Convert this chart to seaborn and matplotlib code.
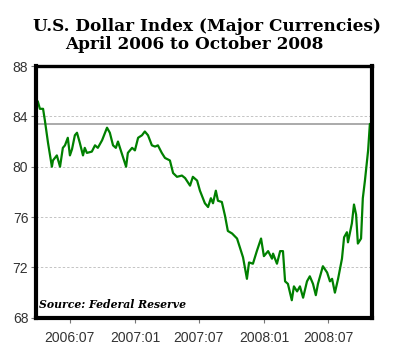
import matplotlib
matplotlib.use("Agg")
import matplotlib.pyplot as plt
import matplotlib.dates as mdates
import pandas as pd
import seaborn as sns

# weekly-ish readings of the index
dates = [
    "2006-04-01", "2006-04-07", "2006-04-16", "2006-04-21", "2006-04-30", "2006-05-11",
    "2006-05-14", "2006-05-25", "2006-06-03", "2006-06-11", "2006-06-17", "2006-06-25",
    "2006-07-01", "2006-07-07", "2006-07-15", "2006-07-21", "2006-07-29", "2006-08-07",
    "2006-08-12", "2006-08-18", "2006-09-01", "2006-09-10", "2006-09-18", "2006-09-30",
    "2006-10-14", "2006-10-22", "2006-10-31", "2006-11-08", "2006-11-14", "2006-11-22",
    "2006-12-07", "2006-12-12", "2006-12-24", "2007-01-01", "2007-01-10", "2007-01-21",
    "2007-01-29", "2007-02-07", "2007-02-18", "2007-02-27", "2007-03-07", "2007-03-18",
    "2007-03-27", "2007-04-10", "2007-04-19", "2007-04-30", "2007-05-14", "2007-05-23",
    "2007-06-06", "2007-06-14", "2007-06-26", "2007-07-04", "2007-07-18", "2007-07-27",
    "2007-08-04", "2007-08-10", "2007-08-18", "2007-08-24", "2007-09-04", "2007-09-13",
    "2007-09-21", "2007-10-03", "2007-10-17", "2007-10-25", "2007-11-03", "2007-11-14",
    "2007-11-20", "2007-12-01", "2007-12-12", "2007-12-24", "2008-01-01", "2008-01-13",
    "2008-01-24", "2008-01-27", "2008-02-07", "2008-02-16", "2008-02-24", "2008-03-01",
    "2008-03-09", "2008-03-20", "2008-03-26", "2008-04-04", "2008-04-12", "2008-04-21",
    "2008-05-02", "2008-05-10", "2008-05-19", "2008-05-27", "2008-06-02", "2008-06-16",
    "2008-06-28", "2008-07-06", "2008-07-12", "2008-07-20", "2008-07-29", "2008-08-09",
    "2008-08-15", "2008-08-23", "2008-08-26", "2008-09-06", "2008-09-12", "2008-09-18",
    "2008-09-23", "2008-10-02", "2008-10-07", "2008-10-13", "2008-10-22", "2008-10-27",
]
index_values = [
    85.2, 84.6, 84.6, 83.7, 81.9, 80.0,
    80.5, 80.9, 80.0, 81.5, 81.7, 82.3,
    80.9, 81.4, 82.5, 82.7, 81.9, 80.9,
    81.5, 81.1, 81.2, 81.7, 81.5, 82.1,
    83.1, 82.7, 81.7, 81.5, 82.0, 81.3,
    80.0, 81.1, 81.5, 81.3, 82.3, 82.5,
    82.8, 82.5, 81.7, 81.6, 81.7, 81.1,
    80.7, 80.5, 79.5, 79.2, 79.3, 79.1,
    78.5, 79.2, 78.9, 78.1, 77.1, 76.8,
    77.5, 77.1, 78.1, 77.3, 77.2, 76.1,
    74.9, 74.7, 74.3, 73.6, 72.8, 71.1,
    72.4, 72.3, 73.3, 74.3, 72.9, 73.3,
    72.7, 73.1, 72.3, 73.3, 73.3, 70.9,
    70.7, 69.4, 70.5, 70.1, 70.5, 69.6,
    70.9, 71.3, 70.7, 69.8, 70.7, 72.1,
    71.6, 70.9, 71.1, 70.0, 71.1, 72.7,
    74.4, 74.8, 74.0, 75.5, 77.0, 76.2,
    73.9, 74.3, 77.5, 78.9, 81.3, 83.4,
]
y_ticks = [68, 72, 76, 80, 84, 88]

df = pd.DataFrame({"date": pd.to_datetime(dates), "index": index_values})

sns.set_style("white")
plt.rcParams["font.family"] = ["Liberation Sans", "DejaVu Sans"]

fig = plt.figure(figsize=(4, 3.52), dpi=100)
ax = fig.add_axes([0.09, 0.097, 0.84, 0.7155])

ax.set_yticks(y_ticks)
ax.yaxis.grid(True, linestyle=(0, (2.5, 2)), color="#c4c4c4", linewidth=0.7)
ax.set_axisbelow(True)
ax.axhline(index_values[-1], color="#aaaaaa", linewidth=1.4, zorder=1.5)

sns.lineplot(data=df, x="date", y="index", ax=ax, color="#008000", linewidth=1.6)

ax.set_ylim(68, 88)
ax.set_xlim(pd.Timestamp("2006-03-27"), pd.Timestamp("2008-11-02"))
ax.set_xlabel("")
ax.set_ylabel("")

ax.xaxis.set_major_locator(mdates.MonthLocator(bymonth=[1, 7]))
ax.xaxis.set_minor_locator(mdates.MonthLocator())
ax.xaxis.set_major_formatter(mdates.DateFormatter("%Y:%m"))
ax.tick_params(axis="both", which="major", direction="out", length=3.5, width=0.8,
               color="#777777", labelcolor="#333333", labelsize=10, pad=2)
ax.tick_params(axis="x", which="minor", direction="out", length=2.5, width=0.8,
               color="#777777")
ax.tick_params(axis="x", which="major", pad=6)
ax.tick_params(left=True, bottom=True)

for side in ["left", "right", "top", "bottom"]:
    ax.spines[side].set_visible(True)
    ax.spines[side].set_color("black")
    ax.spines[side].set_linewidth(3)
ax.spines["top"].set_linewidth(2.4)

ax.text(0.01, 0.04, "Source: Federal Reserve", transform=ax.transAxes,
        fontsize=7.8, fontweight="bold", fontstyle="italic", family="DejaVu Serif",
        color="black", ha="left", va="baseline")

fig.text(0.5175, 0.913, "U.S. Dollar Index (Major Currencies)", ha="center",
         va="baseline", fontsize=12.2, fontweight="bold", family="DejaVu Serif",
         color="black")
fig.text(0.485, 0.862, "April 2006 to October 2008", ha="center",
         va="baseline", fontsize=12.2, fontweight="bold", family="DejaVu Serif",
         color="black")

fig.savefig("out.png", dpi=100)
